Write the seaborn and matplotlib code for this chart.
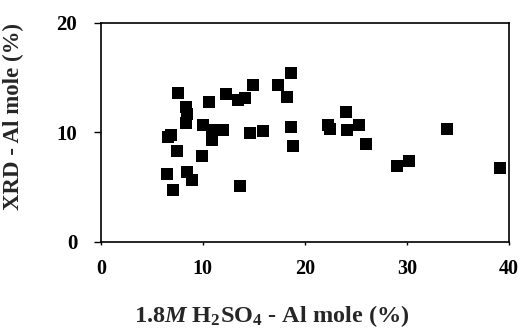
import matplotlib
matplotlib.use("Agg")
import matplotlib.pyplot as plt
import seaborn as sns
import pandas as pd

# Al mole fraction: sulfuric acid digestion vs XRD
acid_al = [6.5, 6.6, 7.1, 6.9, 7.55, 7.5, 8.33, 8.46, 8.33, 8.4, 8.9, 9.9,
           10.0, 10.6, 10.9, 12.0, 10.9, 12.3, 13.4, 14.1, 13.65, 14.6, 14.9,
           15.9, 17.4, 18.2, 18.6, 18.6, 18.8, 22.3, 22.5, 24.05, 24.1, 25.3,
           26.0, 29.0, 30.2, 33.9, 39.1]
xrd_al = [6.15, 9.6, 4.7, 9.7, 13.55, 8.26, 12.3, 11.7, 10.85, 6.36, 5.6, 7.8,
          10.64, 12.75, 10.2, 10.2, 9.3, 13.5, 12.95, 13.1, 5.1, 9.9, 14.3,
          10.1, 14.3, 13.2, 15.4, 10.5, 8.75, 10.7, 10.3, 11.8, 10.2, 10.7,
          8.96, 6.9, 7.4, 10.3, 6.76]
x_ticks = [0, 10, 20, 30, 40]
y_ticks = [0, 10, 20]

df = pd.DataFrame({"acid": acid_al, "xrd": xrd_al})

sns.set_style("white")
plt.rcParams["font.family"] = ["Liberation Serif", "DejaVu Serif"]
plt.rcParams["mathtext.fontset"] = "custom"
plt.rcParams["mathtext.rm"] = "Liberation Serif:bold"
plt.rcParams["mathtext.it"] = "Liberation Serif:bold:italic"
plt.rcParams["mathtext.bf"] = "Liberation Serif:bold"

fig = plt.figure(figsize=(5.21, 3.30), dpi=100)
ax = fig.add_axes([0.1935, 0.268, 0.7835, 0.663])

sns.scatterplot(data=df, x="acid", y="xrd", ax=ax, marker="s", s=80,
                color="black", edgecolor="black", linewidth=0, legend=False)

ax.set_xlim(0, 40)
ax.set_ylim(0, 20)
ax.set_xticks(x_ticks)
ax.set_yticks(y_ticks)
ax.set_xticklabels([str(t) for t in x_ticks], fontsize=14.5, fontweight="bold")
ax.set_yticklabels([str(t) for t in y_ticks], fontsize=15, fontweight="bold")

for side in ["left", "bottom", "right", "top"]:
    ax.spines[side].set_visible(True)
    ax.spines[side].set_color("black")
    ax.spines[side].set_linewidth(1.2)

ax.tick_params(axis="y", direction="out", length=5, width=1, pad=12,
               left=True, colors="black")
ax.tick_params(axis="x", direction="out", length=2.5, width=1, pad=10,
               bottom=True, colors="black")

ax.set_xlabel(r"1.8$\mathit{M}$ H$_2$SO$_4$ - Al mole (%)",
              fontsize=17.5, fontweight="bold")
ax.set_ylabel("XRD - Al mole (%)", fontsize=16.5, fontweight="bold")
ax.xaxis.set_label_coords(0.418, -0.28)
ax.yaxis.set_label_coords(-0.188, 0.57)

fig.savefig("out.png", dpi=100)
